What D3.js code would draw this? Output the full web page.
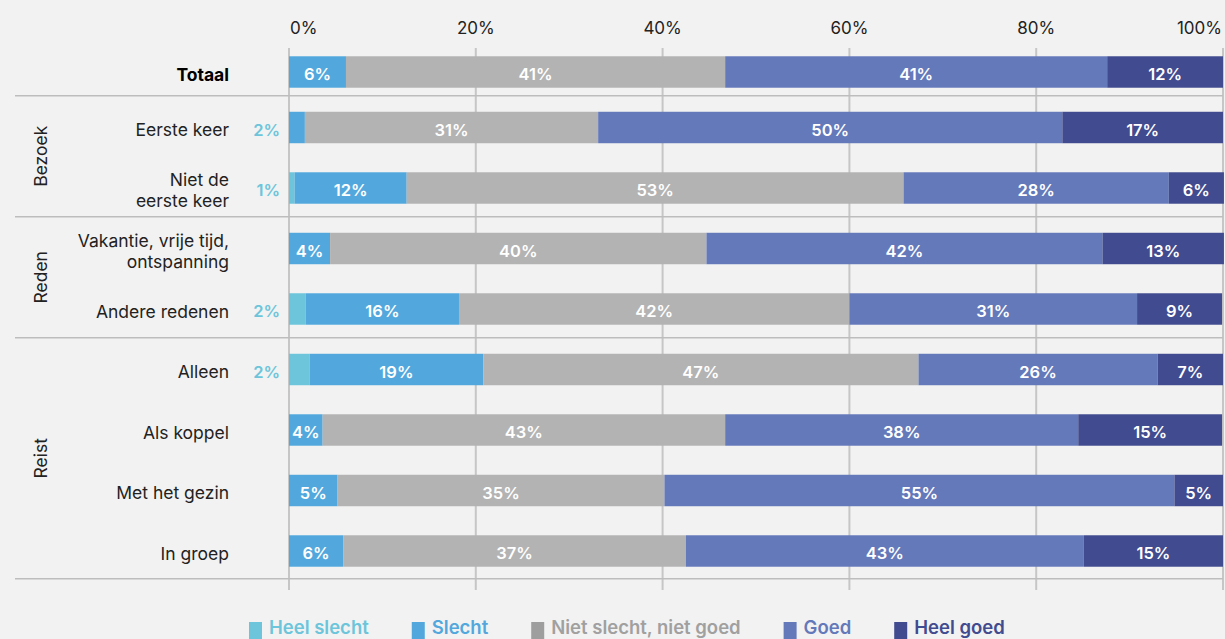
<!DOCTYPE html>
<html><head><meta charset="utf-8">
<script src="https://cdn.jsdelivr.net/npm/d3@7"></script>
<style>
html,body{margin:0;padding:0;background:#f2f2f2;}
svg{display:block;font-family:Inter,"Open Sans",sans-serif;}
</style></head>
<body><svg id="c" width="1225" height="639"></svg>
<script>
const categories = ["Totaal","Eerste keer","Niet de eerste keer","Vakantie, vrije tijd, ontspanning","Andere redenen","Alleen","Als koppel","Met het gezin","In groep"];
const categoryLines = [["Totaal"],["Eerste keer"],["Niet de","eerste keer"],["Vakantie, vrije tijd,","ontspanning"],["Andere redenen"],["Alleen"],["Als koppel"],["Met het gezin"],["In groep"]];
const seriesNames = ["Heel slecht","Slecht","Niet slecht, niet goed","Goed","Heel goed"];
const heelSlecht = [0,0,0.6,0,1.8,2.2,0,0,0];
const slecht     = [6.1,1.7,12.0,4.4,16.4,18.6,3.6,5.2,5.8];
const nietSlecht = [40.6,31.4,53.2,40.3,41.8,46.6,43.1,35.0,36.7];
const goed       = [40.9,49.7,28.4,42.4,30.8,25.6,37.8,54.6,42.6];
const heelGoed   = [12.4,17.2,5.9,13.0,9.1,7.0,15.4,5.2,14.9];
const tickValues = [0,20,40,60,80,100];
const tickLabels = ["0%","20%","40%","60%","80%","100%"];
const groups = [{name:"Bezoek",first:"Eerste keer",last:"Niet de eerste keer"},
                {name:"Reden",first:"Vakantie, vrije tijd, ontspanning",last:"Andere redenen"},
                {name:"Reist",first:"Alleen",last:"In groep"}];

const colors = ["#6cc5da","#52a8dd","#b3b3b3","#6479ba","#414b8f"];
const legendSwatch = ["#6cc5da","#52a8dd","#9e9e9e","#6479ba","#414b8f"];
const legendText = ["#6cc5da","#52a8dd","#a0a0a0","#6479ba","#414b8f"];

const svg = d3.select("#c");
svg.append("rect").attr("width",1225).attr("height",639).attr("fill","#f2f2f2");

const x = d3.scaleLinear().domain([0,100]).range([289,1223]);
const step = 60.5;
const top0 = 36.75;
const y = d3.scaleBand().domain(categories).range([top0, top0+categories.length*step]).paddingInner(0.48).paddingOuter(0.24);
const firstShift = 5;
const yc = c => y(c) + y.bandwidth()/2 + (c===categories[0]?firstShift:0);

const rows = categories.map((c,i)=>({cat:c, lines:categoryLines[i], vals:[heelSlecht[i],slecht[i],nietSlecht[i],goed[i],heelGoed[i]]}));
const stack = d3.stack().keys([0,1,2,3,4]).value((d,k)=>d.vals[k]);
const stacked = stack(rows);

// gridlines
const gGrid = svg.append("g");
gGrid.selectAll("line").data(tickValues).join("line")
  .attr("x1",d=>x(d)).attr("x2",d=>x(d)).attr("y1",48).attr("y2",590)
  .attr("stroke","#c6c6c6").attr("stroke-width",2);

// separators
const sepYs = groups.map(g=>y(g.first)-16).concat([y(groups[2].last)+y.bandwidth()+12]);
svg.append("g").selectAll("line").data(sepYs).join("line")
  .attr("x1",15).attr("x2",1223).attr("y1",d=>d).attr("y2",d=>d)
  .attr("stroke","#bdbdbd").attr("stroke-width",1.5);

// top axis tick labels
const ax = svg.append("g");
ax.selectAll("text").data(tickValues).join("text")
  .attr("x",(d,i)=> i===0 ? x(d)+1 : (i===tickValues.length-1 ? x(d)-1 : x(d)))
  .attr("y",34)
  .attr("text-anchor",(d,i)=> i===0?"start":(i===tickValues.length-1?"end":"middle"))
  .attr("font-size",17).attr("fill","#222")
  .text((d,i)=>tickLabels[i]);

// bars
const gBars = svg.append("g");
stacked.forEach((layer,k)=>{
  gBars.append("g").selectAll("rect").data(layer).join("rect")
    .attr("x",d=>x(d[0])).attr("width",d=>Math.max(0,x(d[1])-x(d[0])))
    .attr("y",d=>yc(d.data.cat)-y.bandwidth()/2).attr("height",y.bandwidth())
    .attr("fill",colors[k]);
});

// value labels
const gLab = svg.append("g").attr("font-weight",600).attr("font-size",16.5);
stacked.forEach((layer,k)=>{
  layer.forEach(d=>{
    const v = d.data.vals[k];
    if (v<=0) return;
    const lbl = Math.round(v)+"%";
    if (v<3){
      gLab.append("text").attr("x",280).attr("y",yc(d.data.cat)+8).attr("text-anchor","end")
        .attr("fill","#6cc5da").text(lbl);
    } else {
      gLab.append("text").attr("x",(x(d[0])+x(d[1]))/2).attr("y",yc(d.data.cat)+8).attr("text-anchor","middle")
        .attr("fill","#fff").text(lbl);
    }
  });
});

// category labels
const gCat = svg.append("g").attr("font-size",17.5).attr("fill","#222");
rows.forEach((r,i)=>{
  const t = gCat.append("text").attr("text-anchor","end");
  if (i===0) t.attr("font-weight",700).attr("fill","#000");
  const n = r.lines.length;
  r.lines.forEach((ln,j)=>{
    t.append("tspan").attr("x",229).attr("y",yc(r.cat)+8.5 + (j-(n-1)/2)*21).text(ln);
  });
});

// group labels
const gG = svg.append("g").attr("font-size",17.5).attr("fill","#222");
groups.forEach((g,i)=>{
  const cy = (sepYs[i]+sepYs[i+1])/2;
  gG.append("text").attr("transform",`translate(47,${cy}) rotate(-90)`).attr("text-anchor","middle").text(g.name);
});

// legend
const leg = svg.append("g").attr("font-size",18.5).attr("font-weight",600);
let lx = 249;
seriesNames.forEach((s,i)=>{
  leg.append("rect").attr("x",lx).attr("y",622).attr("width",13).attr("height",17).attr("fill",legendSwatch[i]);
  const t = leg.append("text").attr("x",lx+20).attr("y",634).attr("fill",legendText[i]).text(s);
  const w = t.node().getComputedTextLength();
  lx += 20 + w + 43;
});
</script></body></html>
